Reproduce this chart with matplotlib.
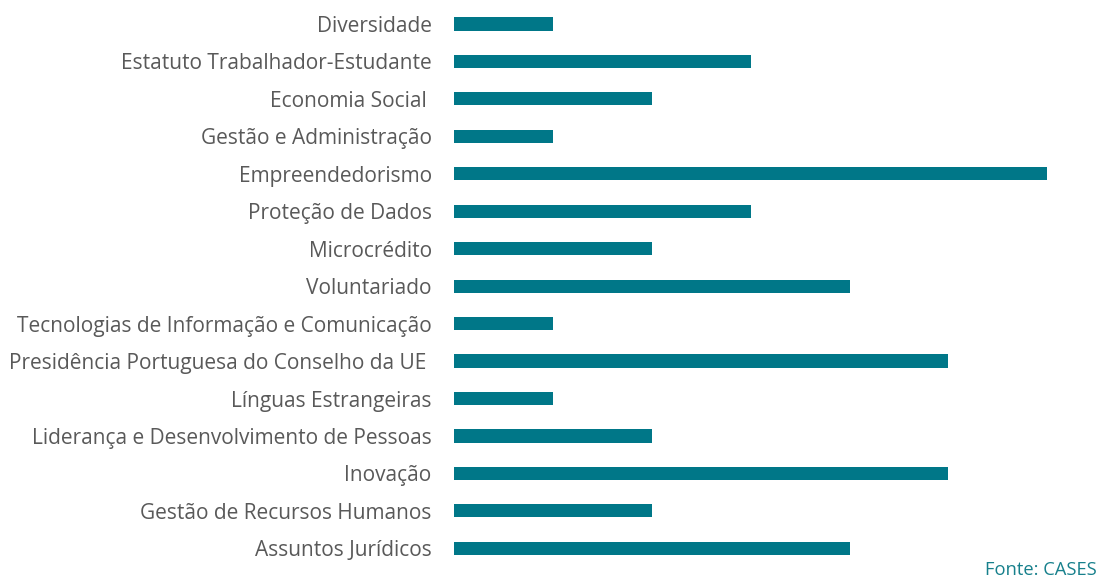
import matplotlib.pyplot as plt

plt.rcParams['font.family'] = ['Open Sans', 'DejaVu Sans']

# areas de formação, de cima para baixo
areas = [
    "Diversidade",
    "Estatuto Trabalhador-Estudante",
    "Economia Social ",
    "Gestão e Administração",
    "Empreendedorismo",
    "Proteção de Dados",
    "Microcrédito",
    "Voluntariado",
    "Tecnologias de Informação e Comunicação",
    "Presidência Portuguesa do Conselho da UE ",
    "Línguas Estrangeiras",
    "Liderança e Desenvolvimento de Pessoas",
    "Inovação",
    "Gestão de Recursos Humanos",
    "Assuntos Jurídicos",
]
acoes = [1, 3, 2, 1, 6, 3, 2, 4, 1, 5, 1, 2, 5, 2, 4]

cor_barra = "#007788"
cor_texto = "#595959"

fig = plt.figure(figsize=(10.99, 5.81), dpi=100)
ax = fig.add_axes([0.413, 0.024, 0.54, 0.967])

pos = list(range(len(areas)))
ax.barh(pos, acoes, height=0.35, color=cor_barra)
ax.set_yticks(pos)
ax.set_yticklabels(areas, fontsize=15, color=cor_texto)
ax.set_ylim(len(areas) - 0.5, -0.5)
ax.set_xlim(0, 6)
ax.set_xticks([])
ax.tick_params(axis='y', length=0, pad=16)
for s in ax.spines.values():
    s.set_visible(False)

fig.text(0.998, 0.003, "Fonte: CASES", ha='right', va='bottom',
         fontsize=13.2, color="#17808c")

fig.savefig("out.png", dpi=100)
